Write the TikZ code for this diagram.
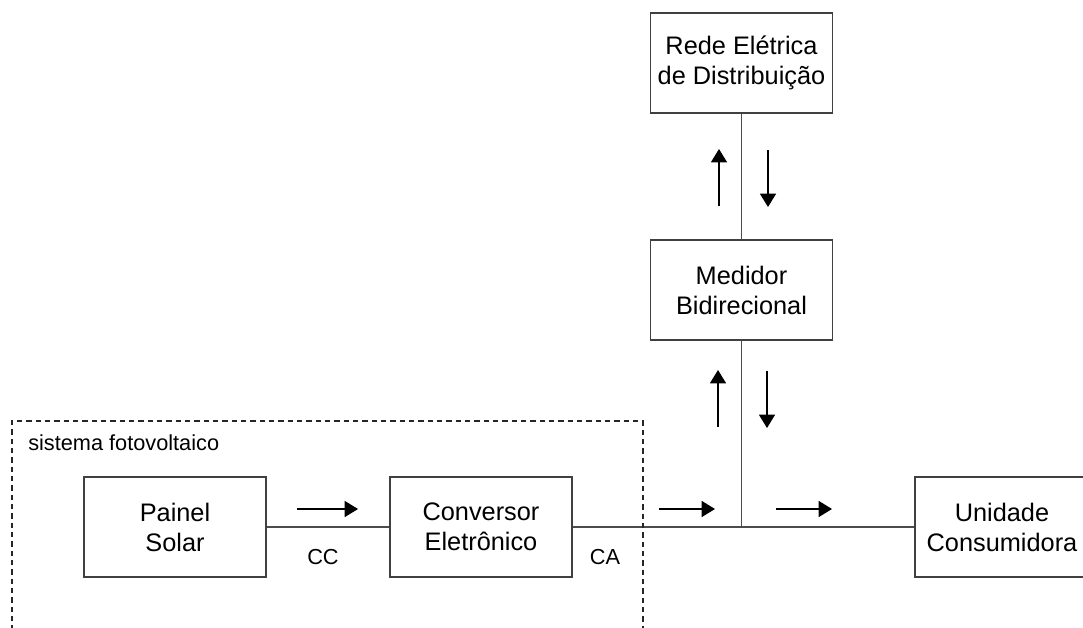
\documentclass[tikz,border=0pt]{standalone}
\usepackage{fontspec}
\setmainfont{Liberation Sans}
\usetikzlibrary{arrows.meta}
\begin{document}
\begin{tikzpicture}[x=0.75pt,y=-0.75pt,
 box/.style={draw=black!75, line width=1.1pt, minimum width=136.5pt, minimum height=75pt, align=center, font=\fontsize{19}{22.5}\selectfont, inner sep=0pt},
 wire/.style={draw=black!70, line width=1.1pt},
 flow/.style={draw=black, line width=1pt, -{Triangle[length=10pt,width=12pt]}},
 frame/.style={draw=black!85, line width=0.9pt, dash pattern=on 4pt off 3pt},
 lbl/.style={font=\fontsize{16.3}{18}\selectfont, inner sep=0pt}]
\useasboundingbox (0,0) rectangle (1083,628);
\clip (0,0) rectangle (1083,628);
\fill[white] (0,0) rectangle (1083,628);
% boxes
\node[box] (rede) at (741.5,63) {Rede Elétrica\\de Distribuição};
\node[box] (med) at (741.5,290) {Medidor\\Bidirecional};
\node[box] (pain) at (175,527) {Painel\\Solar};
\node[box] (conv) at (481,527) {Conversor\\Eletrônico};
\node[box, minimum width=130.5pt] (uc) at (1002,527) {Unidade\\Consumidora};
\coordinate (j) at (med.south |- conv.east);
% wires
\draw[wire] (rede) -- (med);
\draw[wire] (med) -- (j);
\draw[wire] (pain) -- (conv);
\draw[wire] (conv) -- (uc);
% frame
\draw[frame] (12,640) -- (12,421) -- (643,421) -- (643,640);
\node[lbl, anchor=west] (sf) at (28,443) {sistema fotovoltaico};
\node[lbl] (cc) at (323,557) {CC};
\node[lbl] (ca) at (605,557) {CA};
% flow arrows
\coordinate (a1s) at (297,509); \coordinate (a1e) at (358,509);
\coordinate (a2s) at (659,509); \coordinate (a2e) at (715,509);
\coordinate (a3s) at (776,509); \coordinate (a3e) at (832,509);
\coordinate (u1s) at (719,206); \coordinate (u1e) at (719,149);
\coordinate (d1s) at (768,150); \coordinate (d1e) at (768,207);
\coordinate (u2s) at (718,427); \coordinate (u2e) at (718,370);
\coordinate (d2s) at (767,371); \coordinate (d2e) at (767,428);
\draw[flow] (a1s) -- (a1e);
\draw[flow] (a2s) -- (a2e);
\draw[flow] (a3s) -- (a3e);
\draw[flow] (u1s) -- (u1e);
\draw[flow] (d1s) -- (d1e);
\draw[flow] (u2s) -- (u2e);
\draw[flow] (d2s) -- (d2e);
\end{tikzpicture}
\end{document}
